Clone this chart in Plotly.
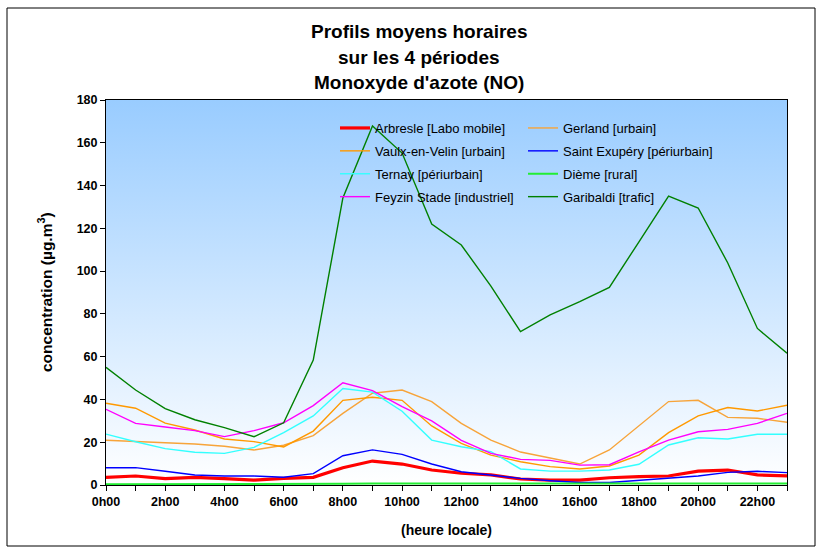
import base64
import plotly.graph_objects as go

# ---------------- data ----------------
hours = list(range(24))
label_hours = list(range(0, 24, 2))
hour_labels = [f"{h}h00" for h in label_hours]
y_ticks = list(range(0, 181, 20))

arbresle = [3.6, 4.2, 3.0, 3.6, 3.0, 2.3, 3.1, 3.6, 8.1, 11.2, 9.8, 7.0,
            5.5, 4.7, 2.8, 2.3, 2.3, 3.4, 3.9, 4.2, 6.5, 7.0, 4.7, 4.3]
gerland = [20.9, 20.3, 19.8, 19.2, 18.1, 16.4, 18.6, 23.1, 33.5, 42.9, 44.4, 39.0,
           28.8, 21.0, 15.4, 12.5, 9.8, 16.4, 27.7, 39.0, 39.6, 31.6, 31.2, 29.3]
vaulx = [38.2, 35.9, 28.9, 25.7, 21.5, 20.3, 17.8, 25.2, 39.6, 41.0, 39.6, 27.6,
         19.5, 14.0, 10.9, 8.6, 7.5, 8.9, 14.0, 24.5, 32.3, 36.2, 34.6, 37.3]
saint_exupery = [8.1, 8.1, 6.4, 4.7, 4.2, 4.2, 3.6, 5.3, 13.7, 16.4, 14.3, 9.8,
                 6.2, 4.7, 3.1, 2.0, 1.2, 1.2, 2.3, 3.1, 4.2, 5.9, 6.4, 5.8]
ternay = [23.8, 20.2, 17.0, 15.3, 14.8, 17.6, 24.5, 32.3, 45.1, 43.4, 34.5, 21.0,
          17.9, 15.6, 7.5, 6.5, 6.5, 7.0, 9.7, 18.7, 22.1, 21.5, 23.7, 23.7]
dieme = [0.3, 0.3, 0.3, 0.3, 0.3, 0.3, 0.3, 0.4, 0.6, 0.7, 0.7, 0.7,
         0.7, 0.7, 0.7, 0.7, 0.7, 0.7, 0.7, 0.7, 0.7, 0.7, 0.7, 0.7]
feyzin = [35.4, 28.8, 27.1, 25.4, 22.6, 25.4, 29.1, 37.1, 47.8, 44.1, 36.6, 30.0,
          20.9, 14.8, 12.0, 11.5, 9.3, 9.5, 15.5, 21.0, 24.9, 26.0, 28.8, 33.5]
garibaldi = [55.0, 44.4, 35.7, 30.5, 26.8, 22.6, 29.1, 58.4, 134.2, 167.9, 155.2, 122.0,
             112.2, 93.0, 71.7, 79.5, 85.7, 92.4, 113.7, 135.1, 129.5, 103.8, 73.2, 61.6]

names = ["Arbresle [Labo mobile]", "Gerland [urbain]", "Vaulx-en-Velin [urbain]",
         "Saint Exupéry [périurbain]", "Ternay [périurbain]", "Dième [rural]",
         "Feyzin Stade [industriel]", "Garibaldi [trafic]"]
values = [arbresle, gerland, vaulx, saint_exupery, ternay, dieme, feyzin, garibaldi]
colors = ["#FF0000", "#F7A43A", "#FF9900", "#0000FF", "#33FFFF", "#22EE33", "#FF00FF", "#008000"]
widths = [3.2, 1.4, 1.4, 1.4, 1.4, 2.0, 1.4, 1.4]
legend_ids = ["legend", "legend2", "legend", "legend2", "legend", "legend2", "legend", "legend2"]

# ---------------- layout geometry ----------------
W, H = 821, 552
ML, MR, MT, MB = 106, 34, 100, 67
PW = W - ML - MR
PH = H - MT - MB


def fx(px):
    return (px - ML) / PW


def fy(py):
    return (H - MB - py) / PH


FONT = "Arial, 'Liberation Sans', sans-serif"

fig = go.Figure()
for name, vals, col, w, leg in zip(names, values, colors, widths, legend_ids):
    fig.add_trace(go.Scatter(x=hours, y=vals, mode="lines", name=name,
                             line=dict(color=col, width=w),
                             legend=leg, legendgroup=name))

# gradient background of the plot area
svg = ('<svg xmlns="http://www.w3.org/2000/svg" width="10" height="100" preserveAspectRatio="none">'
       '<defs><linearGradient id="g" x1="0" y1="0" x2="0" y2="1">'
       '<stop offset="0" stop-color="#99CCFF"/><stop offset="1" stop-color="#FFFFFF"/>'
       '</linearGradient></defs><rect width="10" height="100" fill="url(#g)"/></svg>')
src = "data:image/svg+xml;base64," + base64.b64encode(svg.encode()).decode()

legend_common = dict(xanchor="left", yanchor="top", bgcolor="rgba(0,0,0,0)",
                     font=dict(family=FONT, size=13, color="black"),
                     tracegroupgap=3, itemwidth=30, borderwidth=0)

title_lines = ["Profils moyens horaires", "sur les 4 périodes", "Monoxyde d'azote (NO)"]
title_y = [32, 57, 82]
annotations = [dict(text=f"<b>{t}</b>", x=fx(419), y=fy(yy), xref="paper", yref="paper",
                    xanchor="center", yanchor="middle", showarrow=False,
                    font=dict(family=FONT, size=19, color="black"))
               for t, yy in zip(title_lines, title_y)]
annotations.append(dict(text="<b>(heure locale)</b>", x=fx(446), y=fy(530), xref="paper", yref="paper",
                        xanchor="center", yanchor="middle", showarrow=False,
                        font=dict(family=FONT, size=14, color="black")))
annotations.append(dict(text="<b>concentration (µg.m<sup>3</sup>)</b>", x=fx(45), y=fy(292),
                        xref="paper", yref="paper", xanchor="center", yanchor="middle",
                        textangle=-90, showarrow=False,
                        font=dict(family=FONT, size=15.5, color="black")))

fig.update_layout(
    width=W, height=H,
    margin=dict(l=ML, r=MR, t=MT, b=MB, autoexpand=False),
    paper_bgcolor="white", plot_bgcolor="rgba(0,0,0,0)",
    showlegend=True,
    legend=dict(x=fx(335), y=fy(113), **legend_common),
    legend2=dict(x=fx(523), y=fy(113), **legend_common),
    xaxis=dict(range=[0, 23], tickmode="array", tickvals=label_hours, ticktext=hour_labels,
               ticks="outside", ticklen=5, tickcolor="black", showline=True, linecolor="black",
               linewidth=1, mirror=True, showgrid=False, zeroline=False,
               minor=dict(tickmode="array", tickvals=hours, ticks="outside", ticklen=5,
                          tickcolor="black", showgrid=False),
               tickfont=dict(family=FONT, size=12.5, color="black", weight="bold")),
    yaxis=dict(range=[0, 180], tickmode="array", tickvals=y_ticks,
               ticks="outside", ticklen=5, tickcolor="black", showline=True, linecolor="black",
               linewidth=1, mirror=True, showgrid=False, zeroline=False,
               tickfont=dict(family=FONT, size=12.5, color="black", weight="bold")),
    images=[dict(source=src, xref="paper", yref="paper", x=0, y=1, sizex=1, sizey=1,
                 xanchor="left", yanchor="top", sizing="stretch", layer="below")],
    shapes=[dict(type="rect", xref="paper", yref="paper", x0=fx(7), x1=fx(815), y0=fy(546), y1=fy(8),
                 line=dict(color="black", width=1), fillcolor="rgba(0,0,0,0)", layer="below")],
    annotations=annotations,
    hovermode=False,
)

fig.write_html("out.html", config={"displayModeBar": False},
               post_script="document.body.style.margin='0';")
